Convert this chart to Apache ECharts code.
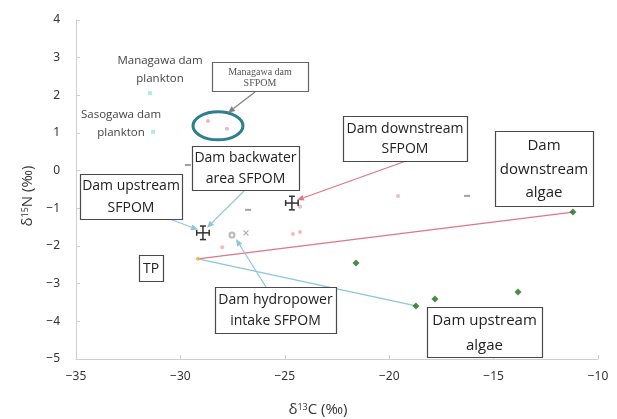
<!DOCTYPE html>
<html><head><meta charset="utf-8">
<script src="https://cdn.jsdelivr.net/npm/echarts@6/dist/echarts.min.js"></script>
<style>html,body{margin:0;padding:0;background:#fff}#c{width:617px;height:419px}</style>
</head><body><div id="c"></div>
<script>
// ---- data ----
const xTicks = [-35, -30, -25, -20, -15, -10];
const yTicks = [-5, -4, -3, -2, -1, 0, 1, 2, 3, 4];
const planktonManagawa = [[-31.46, 2.06]];
const planktonSasogawa = [[-31.31, 1.03]];
const sfpomManagawa = [[-28.68, 1.32], [-27.77, 1.11]];
const sfpomPink = [[-24.27, -0.96], [-28.0, -2.03], [-24.61, -1.68], [-24.27, -1.63], [-19.58, -0.67]];
const dashPts = [[-29.64, 0.15], [-26.76, -1.04], [-16.27, -0.67]];
const intakeCircle = [[-27.53, -1.71]];
const intakeCross = [[-26.86, -1.65]];
const tpPoint = [[-29.16, -2.34]];
const algaePts = [[-21.59, -2.45], [-18.72, -3.59], [-17.81, -3.41], [-13.83, -3.22], [-11.2, -1.1]];
// mean x, mean y, sd x, sd y
const sfpomMeans = [[-28.92, -1.65, 0.3, 0.18], [-24.66, -0.86, 0.3, 0.18]];
const ellipseCentre = [-28.2, 1.19];

const chart = echarts.init(document.getElementById('c'));
const FONT = 'Open Sans';
const minusFmt = v => String(v).replace('-', '\u2212');

chart.setOption({
  animation: false,
  grid: { left: 76, right: 19, top: 20, bottom: 60 },
  xAxis: {
    type: 'value', min: xTicks[0], max: xTicks[xTicks.length - 1], interval: 5,
    axisLine: { onZero: false, lineStyle: { color: '#cfcfcf', width: 1 } },
    axisTick: { inside: true, length: 4, lineStyle: { color: '#cfcfcf' } },
    splitLine: { show: false },
    axisLabel: { formatter: minusFmt, color: '#333', fontSize: 12, fontFamily: 'Noto Sans', margin: 12 }
  },
  yAxis: {
    type: 'value', min: yTicks[0], max: yTicks[yTicks.length - 1], interval: 1,
    axisLine: { show: true, onZero: false, lineStyle: { color: '#cfcfcf', width: 1 } },
    axisTick: { show: true, inside: true, length: 4, lineStyle: { color: '#cfcfcf' } },
    splitLine: { show: false },
    axisLabel: { formatter: minusFmt, color: '#333', fontSize: 12, fontFamily: 'Noto Sans', margin: 16 }
  },
  series: [
    { type: 'line', data: [tpPoint[0], algaePts[4]], showSymbol: false, lineStyle: { color: '#e07585', width: 1.2 }, z: 1 },
    { type: 'line', data: [tpPoint[0], algaePts[1]], showSymbol: false, lineStyle: { color: '#8cc6d6', width: 1.2 }, z: 1 },
    { type: 'scatter', data: planktonManagawa, symbol: 'rect', symbolSize: 4, itemStyle: { color: '#9fe6da' } },
    { type: 'scatter', data: planktonSasogawa, symbol: 'rect', symbolSize: 4, itemStyle: { color: '#9fe6da' } },
    { type: 'scatter', data: sfpomManagawa, symbol: 'circle', symbolSize: 4, itemStyle: { color: '#e9a3b6' } },
    { type: 'scatter', data: sfpomPink, symbol: 'circle', symbolSize: 4, itemStyle: { color: '#f0a6b8' } },
    { type: 'scatter', data: dashPts, symbol: 'rect', symbolSize: [6, 2], itemStyle: { color: '#8a8a8a' } },
    { type: 'scatter', data: intakeCircle, symbol: 'emptyCircle', symbolSize: 5, itemStyle: { color: '#a8a8a8', borderWidth: 1.2 } },
    { type: 'scatter', data: intakeCross, symbol: 'path://M0,0L10,10M10,0L0,10', symbolSize: 5, itemStyle: { color: 'none', borderColor: '#999', borderWidth: 1.2 } },
    { type: 'scatter', data: tpPoint, symbol: 'circle', symbolSize: 4, itemStyle: { color: '#f0b030' } },
    { type: 'scatter', data: algaePts, symbol: 'diamond', symbolSize: 7, itemStyle: { color: '#1d6e1d' } },
    {
      type: 'custom', data: sfpomMeans, z: 5,
      renderItem: function (params, api) {
        const c = api.coord([api.value(0), api.value(1)]);
        const l = api.coord([api.value(0) - api.value(2), api.value(1)]);
        const r = api.coord([api.value(0) + api.value(2), api.value(1)]);
        const t = api.coord([api.value(0), api.value(1) + api.value(3)]);
        const b = api.coord([api.value(0), api.value(1) - api.value(3)]);
        const s = { stroke: '#333', lineWidth: 1.5 };
        const cap = 3;
        return { type: 'group', children: [
          { type: 'line', shape: { x1: l[0], y1: c[1], x2: r[0], y2: c[1] }, style: s },
          { type: 'line', shape: { x1: c[0], y1: t[1], x2: c[0], y2: b[1] }, style: s },
          { type: 'line', shape: { x1: l[0], y1: c[1] - cap, x2: l[0], y2: c[1] + cap }, style: s },
          { type: 'line', shape: { x1: r[0], y1: c[1] - cap, x2: r[0], y2: c[1] + cap }, style: s },
          { type: 'line', shape: { x1: c[0] - cap, y1: t[1], x2: c[0] + cap, y2: t[1] }, style: s },
          { type: 'line', shape: { x1: c[0] - cap, y1: b[1], x2: c[0] + cap, y2: b[1] }, style: s }
        ]};
      }
    }
  ]
});

// ---- annotations (layout in pixels, targets via the chart's scales) ----
const px = p => chart.convertToPixel({ gridIndex: 0 }, p);
const boxes = [
  { text: 'Managawa dam\nSFPOM', x: 212, y: 62, w: 96, h: 29, size: 10, lh: 11, family: 'Liberation Serif', color: '#555', border: '#666' },
  { text: 'Dam backwater\narea SFPOM', x: 192, y: 146, w: 107, h: 44, size: 14, lh: 21 },
  { text: 'Dam upstream\nSFPOM', x: 80, y: 174, w: 102, h: 45, size: 14, lh: 22 },
  { text: 'Dam downstream\nSFPOM', x: 343, y: 116, w: 124, h: 45, size: 14, lh: 20 },
  { text: 'Dam\ndownstream\nalgae', x: 495, y: 131, w: 98, h: 75, size: 15, lh: 23.5 },
  { text: 'Dam upstream\nalgae', x: 427, y: 307, w: 115, h: 50, size: 15, lh: 25 },
  { text: 'Dam hydropower\nintake SFPOM', x: 215, y: 287, w: 121, h: 46, size: 14, lh: 21 },
  { text: 'TP', x: 139, y: 255, w: 24, h: 26, size: 14, lh: 16 }
];
const plainLabels = [
  { text: 'Managawa dam\nplankton', x: 160, y: 70 },
  { text: 'Sasogawa dam\nplankton', x: 121, y: 124 }
];
// arrows: start pixel, target data point, end offset in px
const arrows = [
  { from: [255, 92], to: ellipseCentre, off: [10, -13], color: '#808080' },
  { from: [245, 190], to: sfpomMeans[0], off: [4, -5], color: '#8cc6d6' },
  { from: [170, 219], to: sfpomMeans[0], off: [-5, -3], color: '#8cc6d6' },
  { from: [406, 161], to: sfpomMeans[1], off: [5, -3], color: '#e07585' },
  { from: [266, 287], to: intakeCircle[0], off: [4, 4], color: '#8cc6d6' }
];

const g = [];
boxes.forEach(b => {
  g.push({ type: 'rect', shape: { x: b.x + 0.5, y: b.y + 0.5, width: b.w, height: b.h },
    style: { fill: '#fff', stroke: b.border || '#4a4a4a', lineWidth: 1.2 }, z: 20 });
  g.push({ type: 'text', x: b.x + b.w / 2, y: b.y + b.h / 2 + 1, z: 21,
    style: { text: b.text, align: 'center', verticalAlign: 'middle', fill: b.color || '#222',
      font: b.size + 'px "' + (b.family || FONT) + '"', lineHeight: b.lh } });
});
plainLabels.forEach(l => {
  g.push({ type: 'text', x: l.x, y: l.y, z: 21,
    style: { text: l.text, align: 'center', verticalAlign: 'middle', fill: '#444',
      font: '11.5px "' + FONT + '"', lineHeight: 18 } });
});
const ec = px(ellipseCentre);
g.push({ type: 'ellipse', shape: { cx: ec[0], cy: ec[1], rx: 25, ry: 14 },
  style: { fill: 'none', stroke: '#2c7f8c', lineWidth: 3 }, z: 10 });
arrows.forEach(a => {
  const t = px([a.to[0], a.to[1]]);
  const e = [t[0] + a.off[0], t[1] + a.off[1]];
  const s = a.from;
  const ang = Math.atan2(e[1] - s[1], e[0] - s[0]);
  const L = 7, W = 3;
  const bx = e[0] - L * Math.cos(ang), by = e[1] - L * Math.sin(ang);
  g.push({ type: 'line', shape: { x1: s[0], y1: s[1], x2: bx, y2: by }, style: { stroke: a.color, lineWidth: 1.2 }, z: 15 });
  g.push({ type: 'polygon', shape: { points: [e, [bx + W * Math.sin(ang), by - W * Math.cos(ang)], [bx - W * Math.sin(ang), by + W * Math.cos(ang)]] },
    style: { fill: a.color }, z: 15 });
});
// axis titles
g.push({ type: 'text', x: 318, y: 410, z: 21,
  style: { text: 'δ{sup|13}C (‰)', align: 'center', verticalAlign: 'middle', fill: '#333', font: '15px "' + FONT + '"',
    rich: { sup: { fontSize: 9, verticalAlign: 'top', padding: [0, 0, 6, 0], fill: '#333', fontFamily: FONT } } } });
g.push({ type: 'text', x: 28, y: 196, rotation: Math.PI / 2, z: 21,
  style: { text: 'δ{sup|15}N (‰)', align: 'center', verticalAlign: 'middle', fill: '#333', font: '15px "' + FONT + '"',
    rich: { sup: { fontSize: 9, verticalAlign: 'top', padding: [0, 0, 6, 0], fill: '#333', fontFamily: FONT } } } });

chart.setOption({ graphic: { elements: g } });
</script>
</body></html>
